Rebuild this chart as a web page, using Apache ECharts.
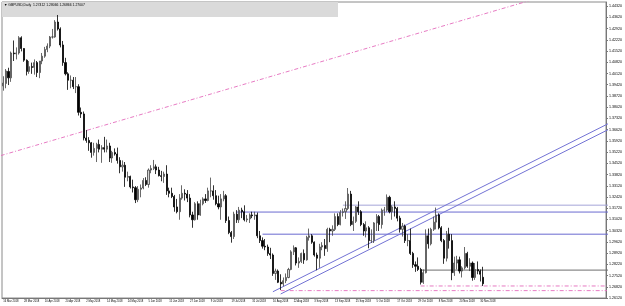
<!DOCTYPE html>
<html lang="en">
<head>
<meta charset="UTF-8">
<title>GBPUSD,Daily</title>
<script src="https://cdn.jsdelivr.net/npm/echarts@6/dist/echarts.min.js"></script>
<style>
  html, body { margin: 0; padding: 0; background: #fff; }
  #main { width: 625px; height: 306px; }
</style>
</head>
<body>
<div id="main"></div>
<script>
// trading days shown on the chart (Good Friday has no bar)
const dates = [
  '16 Mar 2018','19 Mar 2018','20 Mar 2018','21 Mar 2018','22 Mar 2018','23 Mar 2018','26 Mar 2018','27 Mar 2018','28 Mar 2018','29 Mar 2018',
  '2 Apr 2018','3 Apr 2018','4 Apr 2018','5 Apr 2018','6 Apr 2018','9 Apr 2018','10 Apr 2018','11 Apr 2018','12 Apr 2018','13 Apr 2018',
  '16 Apr 2018','17 Apr 2018','18 Apr 2018','19 Apr 2018','20 Apr 2018','23 Apr 2018','24 Apr 2018','25 Apr 2018','26 Apr 2018','27 Apr 2018','30 Apr 2018',
  '1 May 2018','2 May 2018','3 May 2018','4 May 2018','7 May 2018','8 May 2018','9 May 2018','10 May 2018','11 May 2018','14 May 2018',
  '15 May 2018','16 May 2018','17 May 2018','18 May 2018','21 May 2018','22 May 2018','23 May 2018','24 May 2018','25 May 2018','28 May 2018',
  '29 May 2018','30 May 2018','31 May 2018',
  '1 Jun 2018','4 Jun 2018','5 Jun 2018','6 Jun 2018','7 Jun 2018','8 Jun 2018','11 Jun 2018','12 Jun 2018','13 Jun 2018','14 Jun 2018',
  '15 Jun 2018','18 Jun 2018','19 Jun 2018','20 Jun 2018','21 Jun 2018','22 Jun 2018','25 Jun 2018','26 Jun 2018','27 Jun 2018','28 Jun 2018','29 Jun 2018',
  '2 Jul 2018','3 Jul 2018','4 Jul 2018','5 Jul 2018','6 Jul 2018','9 Jul 2018','10 Jul 2018','11 Jul 2018','12 Jul 2018','13 Jul 2018',
  '16 Jul 2018','17 Jul 2018','18 Jul 2018','19 Jul 2018','20 Jul 2018','23 Jul 2018','24 Jul 2018','25 Jul 2018','26 Jul 2018','27 Jul 2018',
  '30 Jul 2018','31 Jul 2018',
  '1 Aug 2018','2 Aug 2018','3 Aug 2018','6 Aug 2018','7 Aug 2018','8 Aug 2018','9 Aug 2018','10 Aug 2018','13 Aug 2018','14 Aug 2018',
  '15 Aug 2018','16 Aug 2018','17 Aug 2018','20 Aug 2018','21 Aug 2018','22 Aug 2018','23 Aug 2018','24 Aug 2018','27 Aug 2018','28 Aug 2018',
  '29 Aug 2018','30 Aug 2018','31 Aug 2018',
  '3 Sep 2018','4 Sep 2018','5 Sep 2018','6 Sep 2018','7 Sep 2018','10 Sep 2018','11 Sep 2018','12 Sep 2018','13 Sep 2018','14 Sep 2018',
  '17 Sep 2018','18 Sep 2018','19 Sep 2018','20 Sep 2018','21 Sep 2018','24 Sep 2018','25 Sep 2018','26 Sep 2018','27 Sep 2018','28 Sep 2018',
  '1 Oct 2018','2 Oct 2018','3 Oct 2018','4 Oct 2018','5 Oct 2018','8 Oct 2018','9 Oct 2018','10 Oct 2018','11 Oct 2018','12 Oct 2018',
  '15 Oct 2018','16 Oct 2018','17 Oct 2018','18 Oct 2018','19 Oct 2018','22 Oct 2018','23 Oct 2018','24 Oct 2018','25 Oct 2018','26 Oct 2018',
  '29 Oct 2018','30 Oct 2018','31 Oct 2018',
  '1 Nov 2018','2 Nov 2018','5 Nov 2018','6 Nov 2018','7 Nov 2018','8 Nov 2018','9 Nov 2018','12 Nov 2018','13 Nov 2018','14 Nov 2018',
  '15 Nov 2018','16 Nov 2018','19 Nov 2018','20 Nov 2018','21 Nov 2018','22 Nov 2018','23 Nov 2018','26 Nov 2018','27 Nov 2018','28 Nov 2018',
  '29 Nov 2018','30 Nov 2018',
  '3 Dec 2018'
];

// open, high, low, close
const candles = [
  [1.3935,1.3995,1.3905,1.3952],[1.3950,1.4040,1.3920,1.4028],[1.4025,1.4048,1.3940,1.3985],[1.3985,1.4149,1.3960,1.4140],
  [1.4140,1.4218,1.4090,1.4135],[1.4135,1.4175,1.4100,1.4140],[1.4140,1.4245,1.4130,1.4235],[1.4235,1.4244,1.4150,1.4168],
  [1.4168,1.4170,1.4085,1.4095],[1.4095,1.4100,1.4000,1.4025],
  [1.4025,1.4090,1.4010,1.4055],[1.4055,1.4080,1.4010,1.4050],[1.4050,1.4100,1.4005,1.4080],[1.4080,1.4090,1.3990,1.4018],
  [1.4018,1.4090,1.3983,1.4090],[1.4090,1.4140,1.4070,1.4120],[1.4120,1.4178,1.4110,1.4162],[1.4162,1.4200,1.4145,1.4183],
  [1.4183,1.4246,1.4170,1.4240],[1.4240,1.4290,1.4230,1.4240],[1.4240,1.4345,1.4235,1.4333],[1.4333,1.4377,1.4280,1.4290],
  [1.4290,1.4300,1.4175,1.4190],[1.4190,1.4215,1.4060,1.4080],[1.4080,1.4110,1.4000,1.4010],[1.4010,1.4020,1.3910,1.3970],
  [1.3970,1.4000,1.3920,1.3970],[1.3970,1.3990,1.3915,1.3930],[1.3930,1.3990,1.3890,1.3930],[1.3930,1.3945,1.3750,1.3770],
  [1.3770,1.3800,1.3735,1.3760],
  [1.3760,1.3775,1.3595,1.3610],[1.3610,1.3660,1.3580,1.3595],[1.3595,1.3615,1.3530,1.3580],[1.3580,1.3585,1.3487,1.3520],
  [1.3520,1.3580,1.3500,1.3545],[1.3545,1.3580,1.3460,1.3570],[1.3570,1.3600,1.3520,1.3540],[1.3540,1.3565,1.3455,1.3550],
  [1.3550,1.3617,1.3520,1.3540],[1.3540,1.3600,1.3520,1.3560],[1.3560,1.3580,1.3460,1.3485],[1.3485,1.3530,1.3455,1.3520],
  [1.3520,1.3545,1.3500,1.3510],[1.3510,1.3550,1.3450,1.3470],[1.3470,1.3490,1.3390,1.3430],[1.3430,1.3470,1.3400,1.3440],
  [1.3440,1.3460,1.3305,1.3365],[1.3365,1.3400,1.3340,1.3370],[1.3370,1.3375,1.3295,1.3305],[1.3305,1.3350,1.3270,1.3300],
  [1.3300,1.3310,1.3204,1.3225],[1.3225,1.3310,1.3210,1.3290],[1.3290,1.3320,1.3240,1.3298],
  [1.3298,1.3360,1.3290,1.3345],[1.3345,1.3365,1.3310,1.3320],[1.3320,1.3420,1.3300,1.3410],[1.3410,1.3440,1.3390,1.3420],
  [1.3420,1.3473,1.3410,1.3430],[1.3430,1.3445,1.3385,1.3410],[1.3410,1.3430,1.3370,1.3375],[1.3375,1.3405,1.3340,1.3370],
  [1.3370,1.3400,1.3330,1.3385],[1.3385,1.3440,1.3255,1.3280],[1.3280,1.3300,1.3240,1.3265],[1.3265,1.3300,1.3235,1.3245],
  [1.3245,1.3255,1.3150,1.3180],[1.3180,1.3230,1.3140,1.3150],[1.3150,1.3260,1.3100,1.3235],[1.3235,1.3315,1.3225,1.3265],
  [1.3265,1.3290,1.3220,1.3260],[1.3260,1.3285,1.3210,1.3235],[1.3235,1.3260,1.3115,1.3130],[1.3130,1.3150,1.3050,1.3100],
  [1.3100,1.3210,1.3095,1.3200],
  [1.3200,1.3215,1.3100,1.3130],[1.3130,1.3225,1.3125,1.3200],[1.3200,1.3240,1.3190,1.3230],[1.3230,1.3260,1.3205,1.3220],
  [1.3220,1.3300,1.3215,1.3280],[1.3280,1.3363,1.3240,1.3280],[1.3280,1.3315,1.3225,1.3250],[1.3250,1.3285,1.3190,1.3200],
  [1.3200,1.3250,1.3165,1.3180],[1.3180,1.3260,1.3100,1.3230],[1.3230,1.3280,1.3215,1.3250],[1.3250,1.3260,1.3080,1.3095],
  [1.3095,1.3120,1.3010,1.3020],[1.3020,1.3030,1.2957,1.2995],[1.2995,1.3150,1.2980,1.3135],[1.3135,1.3160,1.3080,1.3100],
  [1.3100,1.3180,1.3080,1.3160],[1.3160,1.3175,1.3110,1.3150],[1.3150,1.3190,1.3090,1.3100],[1.3100,1.3130,1.3085,1.3105],
  [1.3105,1.3140,1.3080,1.3130],[1.3130,1.3150,1.3110,1.3125],
  [1.3125,1.3150,1.3100,1.3130],[1.3130,1.3145,1.2985,1.3000],[1.3000,1.3030,1.2955,1.2970],[1.2970,1.2990,1.2920,1.2935],
  [1.2935,1.2980,1.2910,1.2930],[1.2930,1.2945,1.2875,1.2890],[1.2890,1.2925,1.2855,1.2880],[1.2880,1.2890,1.2750,1.2765],
  [1.2765,1.2795,1.2725,1.2780],[1.2780,1.2790,1.2705,1.2710],[1.2710,1.2760,1.2662,1.2700],[1.2700,1.2740,1.2685,1.2720],
  [1.2720,1.2765,1.2705,1.2740],[1.2740,1.2800,1.2735,1.2790],[1.2790,1.2910,1.2785,1.2900],[1.2900,1.2940,1.2880,1.2925],
  [1.2925,1.2930,1.2815,1.2830],[1.2830,1.2865,1.2800,1.2840],[1.2840,1.2895,1.2830,1.2890],[1.2890,1.2915,1.2825,1.2850],
  [1.2850,1.3000,1.2845,1.2990],[1.2990,1.3045,1.2970,1.3000],[1.3000,1.3010,1.2950,1.2960],
  [1.2960,1.2965,1.2870,1.2880],[1.2880,1.2895,1.2785,1.2860],[1.2860,1.2950,1.2800,1.2930],[1.2930,1.2960,1.2910,1.2940],
  [1.2940,1.2980,1.2875,1.2920],[1.2920,1.3050,1.2900,1.3040],[1.3040,1.3050,1.2960,1.3030],[1.3030,1.3065,1.3000,1.3040],
  [1.3040,1.3140,1.3030,1.3120],[1.3120,1.3140,1.3060,1.3070],[1.3070,1.3160,1.3065,1.3145],[1.3145,1.3170,1.3120,1.3150],
  [1.3150,1.3215,1.3105,1.3170],[1.3170,1.3298,1.3160,1.3260],[1.3260,1.3280,1.3060,1.3070],[1.3070,1.3120,1.3030,1.3090],
  [1.3090,1.3185,1.3080,1.3180],[1.3180,1.3215,1.3130,1.3150],[1.3150,1.3160,1.3060,1.3070],[1.3070,1.3080,1.3000,1.3030],
  [1.3030,1.3090,1.2990,1.3050],[1.3050,1.3060,1.2922,1.2970],[1.2970,1.3040,1.2955,1.2970],[1.2970,1.3085,1.2955,1.3080],
  [1.3080,1.3135,1.3030,1.3120],[1.3120,1.3130,1.3030,1.3070],[1.3070,1.3170,1.3045,1.3160],[1.3160,1.3180,1.3125,1.3160],
  [1.3160,1.3258,1.3150,1.3240],[1.3240,1.3250,1.3140,1.3150],[1.3150,1.3190,1.3100,1.3180],[1.3180,1.3215,1.3120,1.3170],
  [1.3170,1.3180,1.3090,1.3110],[1.3110,1.3125,1.3020,1.3040],[1.3040,1.3080,1.2995,1.3060],[1.3060,1.3070,1.2955,1.2970],
  [1.2970,1.3010,1.2935,1.2970],[1.2970,1.3045,1.2880,1.2890],[1.2890,1.2900,1.2800,1.2820],[1.2820,1.2840,1.2775,1.2810],
  [1.2810,1.2865,1.2780,1.2790],[1.2790,1.2800,1.2696,1.2710],[1.2710,1.2790,1.2700,1.2770],
  [1.2770,1.3040,1.2765,1.3000],[1.3000,1.3045,1.2920,1.2950],[1.2950,1.3050,1.2940,1.3040],[1.3040,1.3120,1.3030,1.3085],
  [1.3085,1.3176,1.3040,1.3130],[1.3130,1.3140,1.3040,1.3050],[1.3050,1.3060,1.2960,1.2970],[1.2970,1.2980,1.2825,1.2860],
  [1.2860,1.3030,1.2840,1.3010],[1.3010,1.3050,1.2920,1.2970],[1.2970,1.3010,1.2723,1.2770],[1.2770,1.2870,1.2750,1.2830],
  [1.2830,1.2875,1.2790,1.2850],[1.2850,1.2870,1.2765,1.2780],[1.2780,1.2810,1.2740,1.2800],[1.2800,1.2930,1.2790,1.2890],
  [1.2890,1.2900,1.2800,1.2810],[1.2810,1.2860,1.2780,1.2830],[1.2830,1.2840,1.2720,1.2740],[1.2740,1.2830,1.2725,1.2790],
  [1.2790,1.2840,1.2760,1.2780],[1.2780,1.2790,1.2715,1.2760],
  [1.27412,1.28066,1.26866,1.27007]
];

// price scale labels on the right
const priceTicks = [
  1.26120, 1.26820, 1.27520, 1.28220, 1.28920, 1.29620, 1.30320, 1.31020, 1.31720,
  1.32420, 1.33120, 1.33820, 1.34520, 1.35220, 1.35920, 1.36620, 1.37320, 1.38020,
  1.38720, 1.39420, 1.40120, 1.40820, 1.41520, 1.42220, 1.42920, 1.43620, 1.44320
];

// drawn objects: horizontal levels (price, first bar index)
const levelPrices = [1.3191, 1.3148, 1.3010, 1.2786];
const levelStarts = [131, 90, 100, 161];
const lowLevelPrices = [1.2687, 1.2658];
const lowLevelStarts = [161, 107];
// trend lines: [barIndex, price] end points
const longTrend = [[-1, 1.3500], [205, 1.4476]];
const channelUpper = [[104, 1.2651], [240, 1.3753]];
const channelLower = [[107, 1.2637], [240, 1.3716]];

const header = 'GBPUSD,Daily  1.27412 1.28066 1.26866 1.27007';
const slots = 233;
const lastClose = candles[candles.length - 1][3];

const cats = dates.concat(new Array(slots - dates.length).fill(''));
const kData = candles.map(c => [c[0], c[3], c[2], c[1]]);
const showLabel = (i) => i < dates.length && i % 8 === 0;

function seg(points, color, type, width) {
  return {
    type: 'line', data: points, showSymbol: false, silent: true, clip: true,
    lineStyle: { color: color, width: width || 1, type: type || 'solid' }, z: 3
  };
}

const series = [{
  type: 'candlestick',
  data: kData,
  barWidth: '62%',
  itemStyle: {
    color: '#d4d4d4', color0: '#000000',
    borderColor: '#444444', borderColor0: '#000000', borderWidth: 0.8
  },
  markLine: {
    silent: true, symbol: 'none',
    lineStyle: { opacity: 0 },
    label: {
      show: true, position: 'end', distance: 1,
      formatter: lastClose.toFixed(5),
      backgroundColor: '#000', color: '#fff',
      fontSize: 3.6, fontFamily: 'Liberation Sans', padding: [1, 2]
    },
    data: [{ yAxis: lastClose }]
  },
  z: 4
}];

const pink = '#e46cbc';
const dashDot = [4, 2, 1, 2];
const levelColors = ['#a4a4d8', '#6a6ad0', '#6a6ad0', '#6e6e6e'];
levelPrices.forEach((p, i) => {
  series.push(seg([[levelStarts[i], p], [240, p]], levelColors[i]));
});
lowLevelPrices.forEach((p, i) => {
  series.push(seg([[lowLevelStarts[i], p], [240, p]], pink, dashDot, 0.9));
});
series.push(seg(longTrend, pink, dashDot, 0.9));
series.push(seg(channelUpper, '#7272d4'));
series.push(seg(channelLower, '#7272d4'));

const chart = echarts.init(document.getElementById('main'), null, { renderer: 'canvas' });
chart.setOption({
  animation: false,
  backgroundColor: '#ffffff',
  grid: { left: 2, right: 17, top: 2, bottom: 8, show: true, borderColor: '#8a8a8a', borderWidth: 1 },
  xAxis: {
    type: 'category',
    data: cats,
    boundaryGap: true,
    axisLine: { lineStyle: { color: '#777', width: 1 } },
    axisTick: { interval: showLabel, alignWithLabel: true, length: 2, lineStyle: { color: '#777' } },
    axisLabel: {
      interval: showLabel, align: 'left', margin: 2,
      fontSize: 2.7, fontFamily: 'Liberation Sans', color: '#000'
    },
    splitLine: { show: false }
  },
  yAxis: {
    type: 'value',
    position: 'right',
    min: 1.2612,
    max: 1.4458,
    axisLine: { show: true, lineStyle: { color: '#777', width: 1 } },
    axisTick: { show: true, length: 2, customValues: priceTicks, lineStyle: { color: '#777' } },
    axisLabel: {
      customValues: priceTicks, margin: 3,
      formatter: v => v.toFixed(5),
      fontSize: 3.6, fontFamily: 'Liberation Sans', color: '#000'
    },
    splitLine: { show: false }
  },
  graphic: [
    { type: 'rect', left: 2, top: 2, z: 1, shape: { width: 336, height: 15 }, style: { fill: '#dadada' } },
    { type: 'text', left: 4, top: 4, z: 10, style: { text: '\u25BC ' + header, fontSize: 3.4, fontFamily: 'Liberation Sans', fill: '#000' } }
  ],
  series: series
});
</script>
</body>
</html>
